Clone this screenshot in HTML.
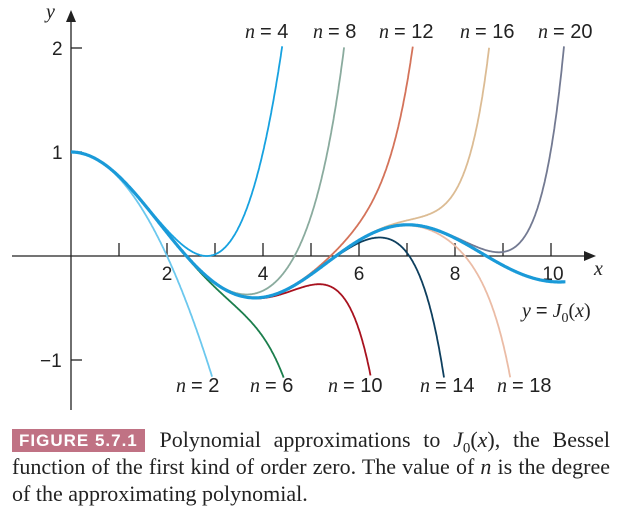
<!DOCTYPE html><html><head><style>
body{margin:0;background:#fff;width:621px;height:522px;overflow:hidden;font-family:"Liberation Serif",serif}
.cap{position:absolute;left:12px;top:427px;width:598px;font-size:22px;line-height:26px;color:#222}
.l{text-align:justify;text-align-last:justify;white-space:nowrap;height:27px}
.box{display:inline-block;background:#c07284;color:#fff;font-family:"Liberation Sans",sans-serif;font-weight:bold;font-size:17px;letter-spacing:1px;padding:0 7px;line-height:23px;margin-right:2px;vertical-align:1px}
.s{font-family:"Liberation Sans",sans-serif;font-style:normal}
</style></head><body>
<svg id="s" width="621" height="420" style="position:absolute;left:0;top:0" font-family="Liberation Serif" font-size="20" fill="#222">
<line x1="12" y1="256" x2="588" y2="256" stroke="#222" stroke-width="1.3"/>
<polygon points="596,256 584,251 584,261" fill="#222"/>
<line x1="71" y1="410" x2="71" y2="18" stroke="#222" stroke-width="1.3"/>
<polygon points="71,10 66,22 76,22" fill="#222"/>
<text x="594" y="275" font-style="italic">x</text>
<text x="46" y="18" font-style="italic">y</text>
<g stroke="#222" stroke-width="1.3">
<line x1="71" y1="48" x2="82" y2="48"/><line x1="71" y1="152" x2="82" y2="152"/><line x1="71" y1="360" x2="82" y2="360"/>
</g>
<g class="s" font-family="Liberation Sans" font-size="19">
<text x="52" y="55">2</text><text x="52" y="159">1</text><text x="40" y="367">−1</text>
<g text-anchor="middle"><text x="167" y="280">2</text><text x="263" y="280">4</text><text x="359" y="280">6</text><text x="455" y="280">8</text><text x="553" y="280">10</text></g>
</g>
<g id="ticks" stroke="#222" stroke-width="1.3"></g>
<g id="curves" fill="none"></g>
<text x="522" y="317" font-style="italic">y <tspan class="s">=</tspan> J<tspan font-style="normal" font-size="14" dy="5">0</tspan><tspan dy="-5" font-style="normal">(</tspan>x<tspan font-style="normal">)</tspan></text>
<g font-style="italic">
<text x="245" y="38">n <tspan class="s">= 4</tspan></text><text x="313" y="38">n <tspan class="s">= 8</tspan></text><text x="379" y="38">n <tspan class="s">= 12</tspan></text><text x="460" y="38">n <tspan class="s">= 16</tspan></text><text x="538" y="38">n <tspan class="s">= 20</tspan></text>
<text x="176" y="392">n <tspan class="s">= 2</tspan></text><text x="250" y="392">n <tspan class="s">= 6</tspan></text><text x="328" y="392">n <tspan class="s">= 10</tspan></text><text x="420" y="392">n <tspan class="s">= 14</tspan></text><text x="497" y="392">n <tspan class="s">= 18</tspan></text>
</g>
</svg>
<div class="cap"><div class="l"><span class="box">FIGURE 5.7.1</span> Polynomial approximations to <i>J</i><sub style="font-size:15px;line-height:0">0</sub>(<i>x</i>), the Bessel</div><div class="l">function of the first kind of order zero. The value of <i>n</i> is the degree</div><div>of the approximating polynomial.</div></div>
<script>
var X=x=>71+48*x,Y=y=>256-104*y;
var h='';
for(var i=1;i<=10;i++){h+='<line x1="'+X(i)+'" y1="243" x2="'+X(i)+'" y2="256"/>';}
document.getElementById('ticks').innerHTML=h;
function P(x,K){var s=0,term=1;for(var k=0;k<=K;k++){if(k>0)term*=-(x*x/4)/(k*k);s+=term;}return s;}
var cols={2:'#6cc8ee',4:'#17a2e0',6:'#1b7e4c',8:'#8aab9e',10:'#a8121f',12:'#d4735a',14:'#0e3f5e',16:'#dcbc94',18:'#ebbca6',20:'#737a92'};
var c='';
for(var n=2;n<=20;n+=2){var d='',K=n/2;for(var x=0;x<=12;x+=0.01){var y=P(x,K);if(y>2.02||y<-1.17){break;}d+=(d?'L':'M')+X(x).toFixed(1)+' '+Y(y).toFixed(1);}
c+='<path d="'+d+'" stroke="'+cols[n]+'" stroke-width="1.8"/>';}
var d='';for(var x=0;x<=10.3;x+=0.01){d+=(d?'L':'M')+X(x).toFixed(1)+' '+Y(P(x,40)).toFixed(1);}
c+='<path d="'+d+'" stroke="#1a9ad8" stroke-width="3.2"/>';
document.getElementById('curves').innerHTML=c;
</script>
</body></html>
